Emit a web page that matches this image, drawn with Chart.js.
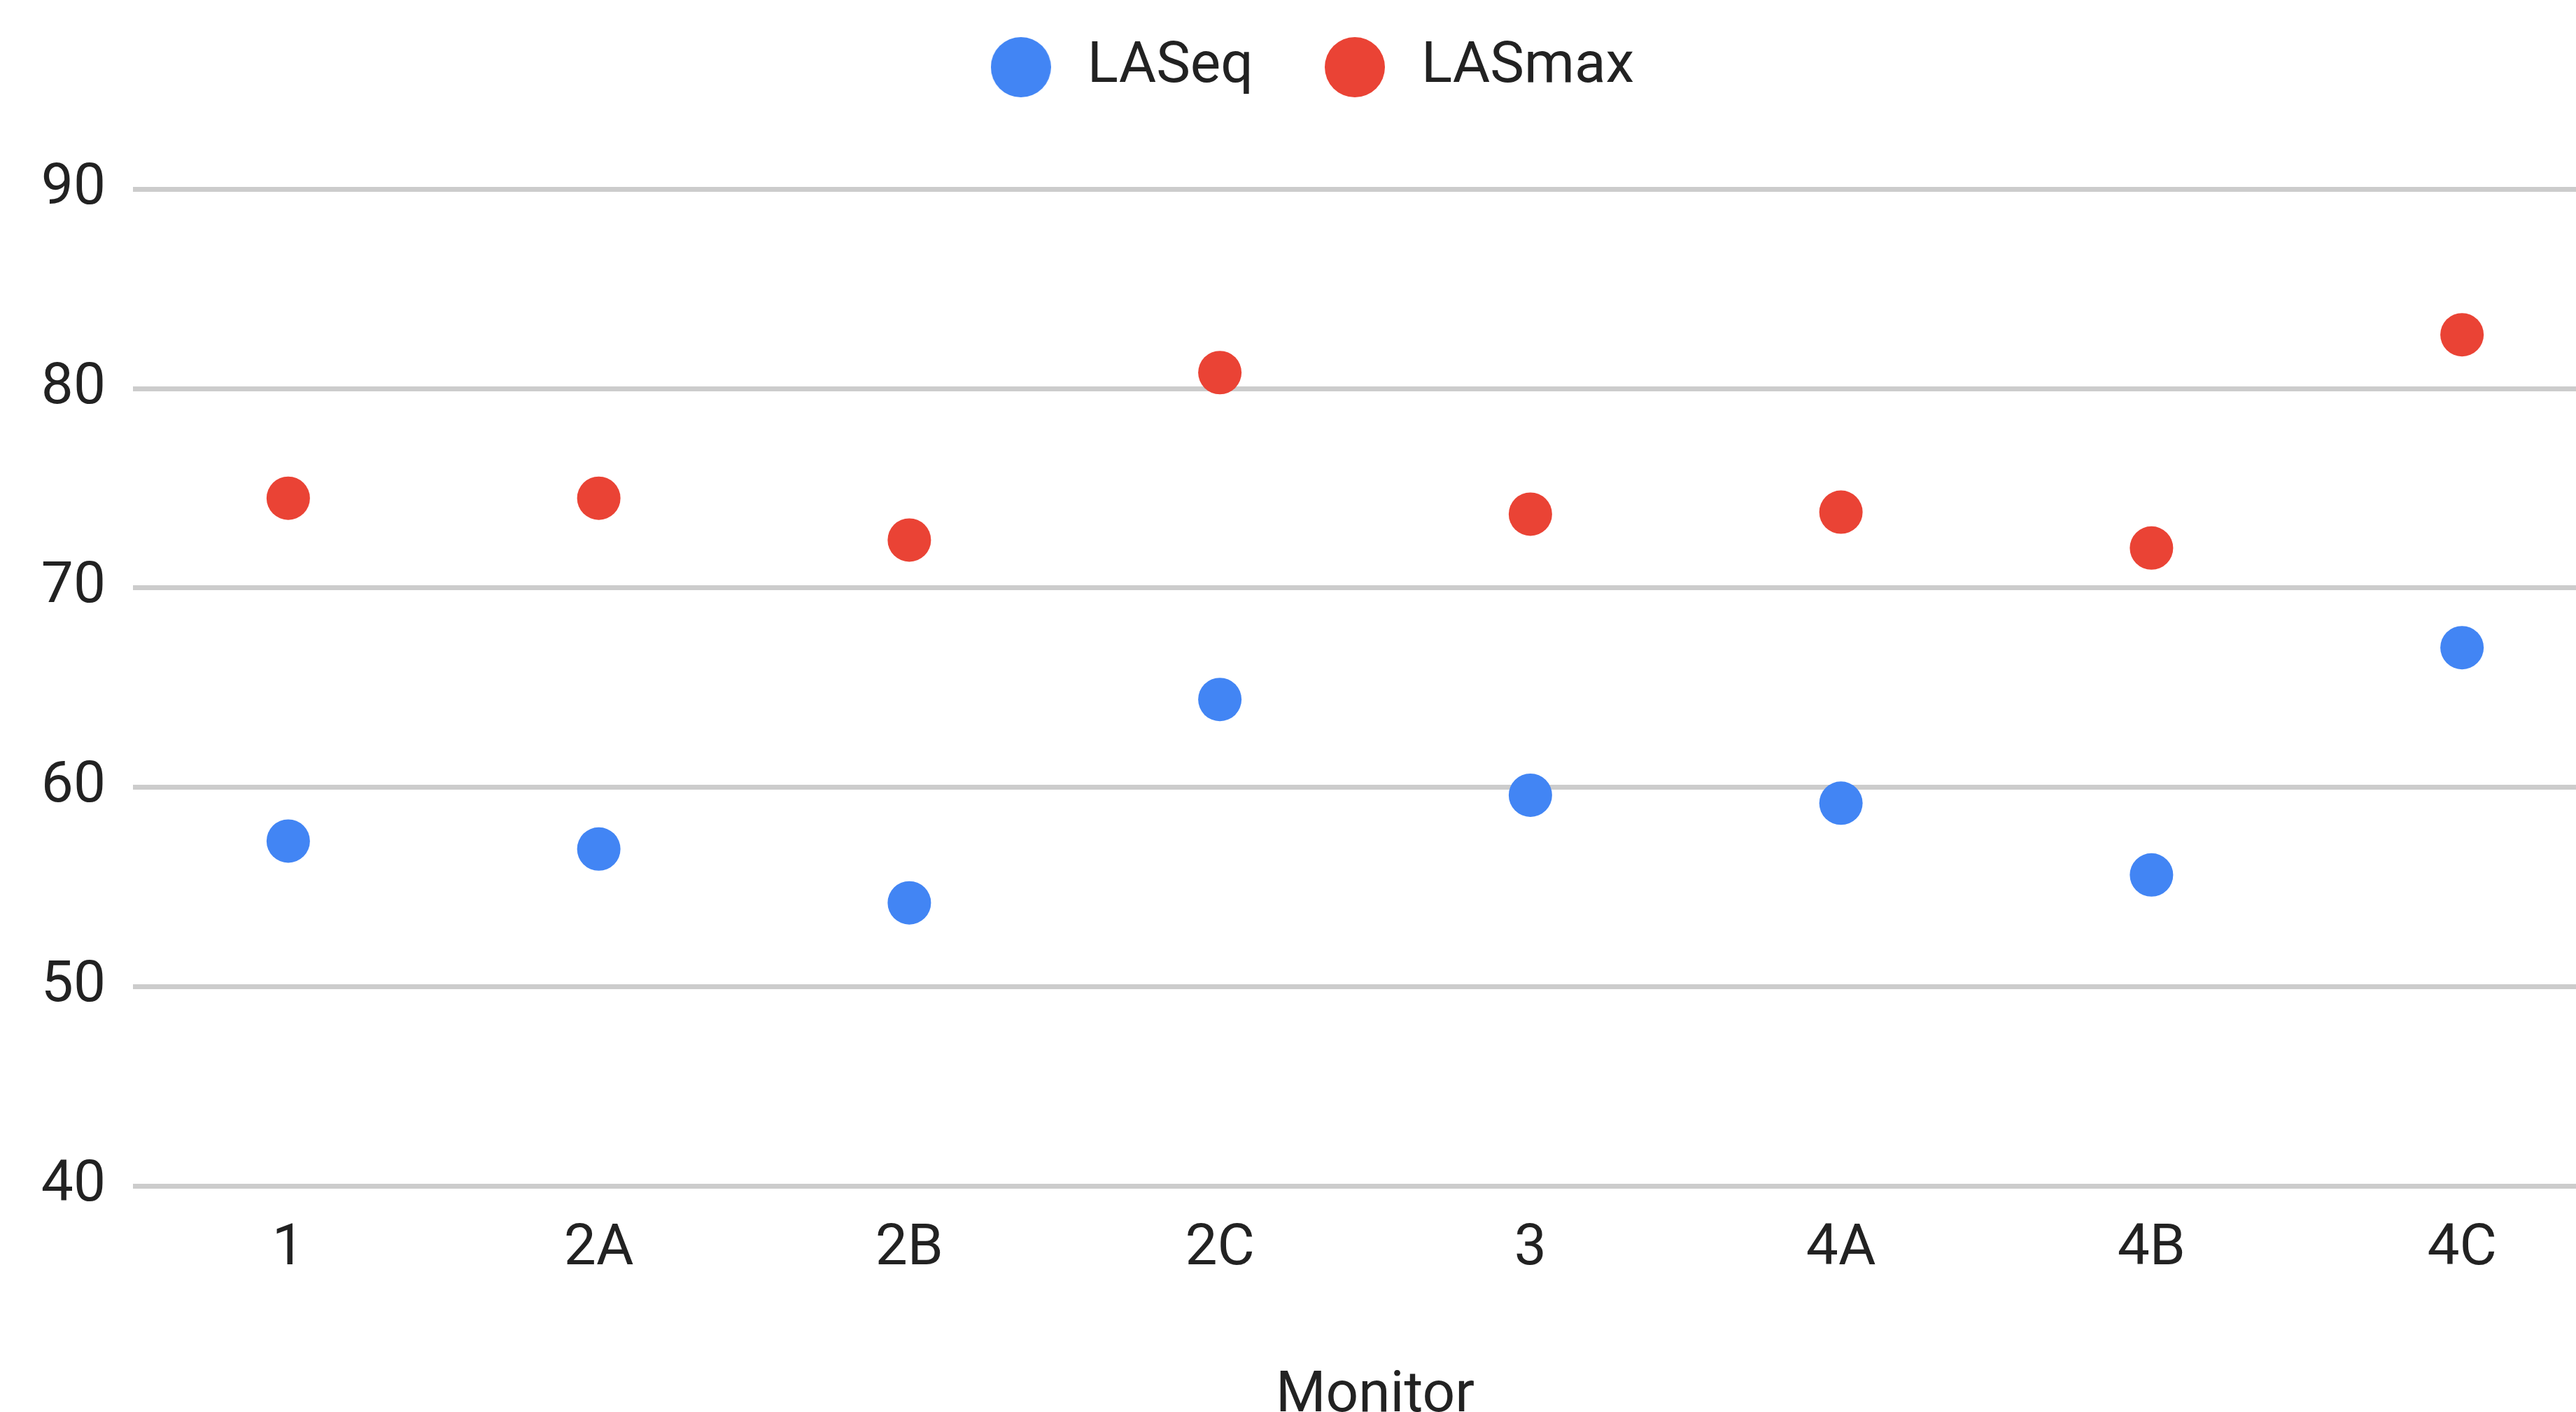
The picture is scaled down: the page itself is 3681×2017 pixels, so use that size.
<!DOCTYPE html>
<html lang="en">
 <head>
  <meta charset="utf-8"/>
  <title>LASeq / LASmax per monitor</title>
  <script src="https://cdn.jsdelivr.net/npm/chart.js"></script>
  <style>
    html, body {
      margin: 0;
      padding: 0;
      background: #fff;
      overflow: hidden;
    }
    .frame {
      width: 3681px;
      height: 2017px;
      overflow: hidden;
    }
  </style>
 </head>
 <body>
  <div class="frame">
   <canvas id="grafik" width="3740" height="2017"></canvas>
  </div>
  <script>
    // data
    const monitors = ['1', '2A', '2B', '2C', '3', '4A', '4B', '4C'];
    const laseq = [57.3, 56.9, 54.2, 64.4, 59.6, 59.2, 55.6, 67.0];
    const lasmax = [74.5, 74.5, 72.4, 80.8, 73.7, 73.8, 72.0, 82.7];
    const seriesNames = ['LASeq', 'LASmax'];
    const seriesColors = ['#4285f4', '#ea4335'];
    const yTicks = [40, 50, 60, 70, 80, 90];

    Chart.defaults.font.family = 'Roboto, "Liberation Sans", sans-serif';
    Chart.defaults.font.size = 82;
    Chart.defaults.color = '#222222';

    // round legend markers, drawn once
    function dotImage(color, d) {
      const c = document.createElement('canvas');
      c.width = c.height = d;
      const g = c.getContext('2d');
      g.fillStyle = color;
      g.beginPath();
      g.arc(d / 2, d / 2, d / 2, 0, Math.PI * 2);
      g.fill();
      return c;
    }
    const legendDots = seriesColors.map(col => dotImage(col, 86));

    new Chart(document.getElementById('grafik'), {
      type: 'line',
      data: {
        labels: monitors,
        datasets: [laseq, lasmax].map((vals, i) => ({
          label: seriesNames[i],
          data: vals,
          showLine: false,
          backgroundColor: seriesColors[i],
          borderColor: seriesColors[i],
          pointRadius: 31,
          pointHoverRadius: 31,
          pointBorderWidth: 0
        }))
      },
      options: {
        responsive: false,
        animation: false,
        devicePixelRatio: 1,
        layout: {
          autoPadding: false,
          padding: { top: -36, left: 0, right: 0, bottom: 0 }
        },
        plugins: {
          tooltip: { enabled: false },
          legend: {
            position: 'top',
            labels: {
              usePointStyle: true,
              pointStyleWidth: 108,
              padding: 91,
              font: { size: 82 },
              generateLabels: chart =>
                Chart.defaults.plugins.legend.labels.generateLabels(chart)
                  .map((item, i) => Object.assign(item, { pointStyle: legendDots[i] }))
            }
          }
        },
        scales: {
          x: {
            type: 'category',
            offset: true,
            grid: { display: false },
            border: { display: false },
            ticks: { padding: 34, font: { size: 82 } },
            title: {
              display: true,
              text: 'Monitor',
              font: { size: 82 },
              padding: { top: 0, bottom: -28 }
            },
            afterFit: s => { s.height = 323; }
          },
          y: {
            min: 40,
            max: 94.33,
            afterBuildTicks: s => { s.ticks = yTicks.map(v => ({ value: v })); },
            grid: { color: '#cccccc', lineWidth: 7, drawTicks: false },
            border: { display: false },
            ticks: { padding: 39, font: { size: 82 } },
            afterFit: s => { s.width = 190; }
          }
        }
      }
    });
  </script>
 </body>
</html>
